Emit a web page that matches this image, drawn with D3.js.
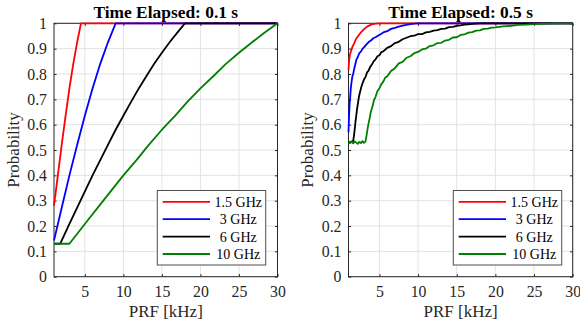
<!DOCTYPE html>
<html><head><meta charset="utf-8">
<script src="https://cdn.jsdelivr.net/npm/d3@7"></script>
<style>html,body{margin:0;padding:0;background:#fff;}svg{display:block;}</style>
</head><body>
<svg id="chart" width="580" height="330"></svg>
<script>
// ---------- data ----------
const seriesNames = ["1.5 GHz", "3 GHz", "6 GHz", "10 GHz"];
const seriesColors = ["#ff0000", "#0000ff", "#000000", "#007f00"];
const titles = ["Time Elapsed: 0.1 s", "Time Elapsed: 0.5 s"];
const xTicks = [5, 10, 15, 20, 25, 30];
const yTicks = [0, 0.1, 0.2, 0.3, 0.4, 0.5, 0.6, 0.7, 0.8, 0.9, 1];
const xLabel = "PRF [kHz]";
const yLabel = "Probability";

// Time elapsed 0.1 s
const t1_x15 = [1, 1.5, 2, 2.5, 3, 3.5, 4, 4.5, 30];
const t1_y15 = [0.28, 0.40, 0.52, 0.635, 0.743, 0.84, 0.925, 1, 1];
const t1_x3 = [1, 2, 3, 4, 5, 6, 7, 8, 9, 30];
const t1_y3 = [0.143, 0.272, 0.40, 0.52, 0.635, 0.743, 0.84, 0.925, 1, 1];
const t1_x6 = [1, 1.8, 3, 4.5, 6, 7, 8, 9, 10, 11, 12, 13, 14, 15, 16, 17, 18, 30];
const t1_y6 = [0.13, 0.13, 0.208, 0.304, 0.40, 0.46, 0.52, 0.58, 0.635, 0.69, 0.743, 0.792, 0.84, 0.884, 0.925, 0.963, 1, 1];
const t1_x10 = [1, 3, 5, 7.5, 10, 11.7, 13.3, 15, 16.7, 18.3, 20, 21.7, 23.3, 25, 26.7, 28.3, 30];
const t1_y10 = [0.13, 0.13, 0.208, 0.304, 0.40, 0.46, 0.52, 0.58, 0.635, 0.69, 0.743, 0.792, 0.84, 0.884, 0.925, 0.963, 1];

// Time elapsed 0.5 s
const t5_x15 = [1, 1.05, 1.1, 1.2, 1.3, 1.4, 1.5, 1.6, 1.75, 1.9, 2.0, 2.2, 2.4, 2.6, 2.8, 3.0, 3.2, 3.4, 3.6, 3.8, 4.0, 4.3, 4.6, 5, 30];
const t5_y15 = [0.815, 0.84, 0.86, 0.878, 0.888, 0.897, 0.906, 0.913, 0.922, 0.933, 0.94, 0.948, 0.956, 0.964, 0.97, 0.977, 0.982, 0.987, 0.99, 0.993, 0.996, 0.998, 0.999, 1, 1];
const t5_x3 = [1, 1.05, 1.1, 1.15, 1.2, 1.3, 1.4, 1.5, 1.6, 1.75, 1.9, 2.0, 2.2, 2.4, 2.6, 2.8, 3.0, 3.3, 3.6, 3.9, 4.2, 4.5, 4.8, 5.1, 5.5, 6, 6.5, 7, 7.5, 8, 8.5, 9, 9.5, 10, 30];
const t5_y3 = [0.57, 0.62, 0.655, 0.685, 0.70, 0.745, 0.77, 0.79, 0.80, 0.822, 0.84, 0.855, 0.867, 0.882, 0.888, 0.899, 0.905, 0.916, 0.926, 0.932, 0.941, 0.945, 0.951, 0.956, 0.964, 0.969, 0.978, 0.982, 0.987, 0.991, 0.994, 0.997, 0.999, 1, 1];
const t5_x6 = [1, 1.3, 1.6, 1.7, 1.8, 1.9, 2.0, 2.1, 2.2, 2.35, 2.5, 2.65, 2.8, 3.0, 3.2, 3.4, 3.6, 3.8, 4.0, 4.25, 4.5, 4.75, 5, 5.25, 5.5, 6, 6.5, 7, 7.5, 8, 8.5, 9, 9.5, 10, 10.5, 11, 11.5, 12, 12.5, 13, 13.5, 14, 14.5, 15, 15.5, 16, 16.5, 17, 17.5, 18, 30];
const t5_y6 = [0.53, 0.532, 0.535, 0.555, 0.58, 0.61, 0.635, 0.66, 0.68, 0.71, 0.73, 0.748, 0.762, 0.778, 0.788, 0.806, 0.813, 0.828, 0.836, 0.85, 0.858, 0.87, 0.874, 0.886, 0.889, 0.903, 0.91, 0.922, 0.927, 0.937, 0.943, 0.949, 0.951, 0.957, 0.957, 0.964, 0.966, 0.971, 0.973, 0.978, 0.979, 0.985, 0.986, 0.99, 0.992, 0.995, 0.996, 0.998, 0.999, 1, 1];
const t5_x10 = [1, 1.2, 1.4, 1.6, 1.8, 2.0, 2.2, 2.4, 2.6, 2.8, 3.0, 3.2, 3.35, 3.5, 3.7, 3.9, 4.1, 4.3, 4.5, 4.75, 5, 5.25, 5.5, 5.75, 6, 6.5, 7, 7.5, 8, 8.5, 9, 9.5, 10, 10.5, 11, 11.5, 12, 12.5, 13, 13.5, 14, 14.5, 15, 15.5, 16, 16.5, 17, 17.5, 18, 18.5, 19, 19.5, 20, 21, 22, 23, 24, 25, 26, 27, 28, 30];
const t5_y10 = [0.531, 0.527, 0.533, 0.526, 0.534, 0.529, 0.524, 0.532, 0.527, 0.535, 0.528, 0.533, 0.56, 0.59, 0.62, 0.652, 0.672, 0.697, 0.71, 0.733, 0.744, 0.76, 0.77, 0.786, 0.79, 0.812, 0.823, 0.842, 0.848, 0.864, 0.87, 0.882, 0.887, 0.897, 0.9, 0.91, 0.913, 0.922, 0.923, 0.932, 0.935, 0.944, 0.945, 0.954, 0.956, 0.963, 0.965, 0.971, 0.972, 0.978, 0.979, 0.983, 0.984, 0.988, 0.99, 0.994, 0.995, 0.997, 0.998, 0.999, 1, 1];

const panels = [
  { title: titles[0], xs: [t1_x15, t1_x3, t1_x6, t1_x10], ys: [t1_y15, t1_y3, t1_y6, t1_y10] },
  { title: titles[1], xs: [t5_x15, t5_x3, t5_x6, t5_x10], ys: [t5_y15, t5_y3, t5_y6, t5_y10] }
];

// ---------- layout ----------
const layouts = [
  { left: 54, right: 277.5, top: 23.3, bottom: 276.7, ylabX: 18.5, legX: 157.3 },
  { left: 348.5, right: 572.7, top: 23.3, bottom: 276.7, ylabX: 312.5, legX: 453.3 }
];
const FONT = "'Liberation Serif','Times New Roman',serif";
const AX = "#262626";
const svg = d3.select("#chart");

panels.forEach((p, pi) => {
  const L = layouts[pi];
  const x = d3.scaleLinear().domain([1, 30]).range([L.left, L.right]);
  const y = d3.scaleLinear().domain([0, 1]).range([L.bottom, L.top]);
  const g = svg.append("g");
  const w = L.right - L.left, h = L.bottom - L.top;

  g.append("rect").attr("x", L.left).attr("y", L.top).attr("width", w).attr("height", h).attr("fill", "#fff");

  // grid
  g.append("g").selectAll("line").data(xTicks).join("line")
    .attr("x1", d => x(d)).attr("x2", d => x(d)).attr("y1", L.top).attr("y2", L.bottom)
    .attr("stroke", "#e3e3e3").attr("stroke-width", 1);
  g.append("g").selectAll("line").data(yTicks).join("line")
    .attr("x1", L.left).attr("x2", L.right).attr("y1", d => y(d)).attr("y2", d => y(d))
    .attr("stroke", "#e3e3e3").attr("stroke-width", 1);

  // axes (ticks inward, mirrored)
  const tl = 2.6;
  const axB = d3.axisBottom(x).tickValues(xTicks).tickSize(-tl).tickPadding(9).tickFormat(d3.format("d"));
  const axT = d3.axisTop(x).tickValues(xTicks).tickSize(-tl).tickFormat("");
  const axL = d3.axisLeft(y).tickValues(yTicks).tickSize(-tl).tickPadding(7).tickFormat(d => d3.format("")(+d.toFixed(1)));
  const axR = d3.axisRight(y).tickValues(yTicks).tickSize(-tl).tickFormat("");
  const styleAx = sel => {
    sel.select(".domain").remove();
    sel.selectAll("line").attr("stroke", AX);
    sel.selectAll("text").attr("fill", AX).style("font-family", FONT).style("font-size", "15.8px");
  };
  g.append("g").attr("transform", `translate(0,${L.bottom})`).call(axB).call(styleAx);
  g.append("g").attr("transform", `translate(0,${L.top})`).call(axT).call(styleAx);
  g.append("g").attr("transform", `translate(${L.left},0)`).call(axL).call(styleAx);
  g.append("g").attr("transform", `translate(${L.right},0)`).call(axR).call(styleAx);

  g.append("rect").attr("x", L.left).attr("y", L.top).attr("width", w).attr("height", h)
    .attr("fill", "none").attr("stroke", AX).attr("stroke-width", 1);

  // lines
  const line = d3.line().x(d => x(d[0])).y(d => y(d[1]));
  p.xs.forEach((xs, si) => {
    const pts = xs.map((v, i) => [v, p.ys[si][i]]);
    g.append("path").attr("d", line(pts)).attr("fill", "none")
      .attr("stroke", seriesColors[si]).attr("stroke-width", 1.8).attr("stroke-linejoin", "round");
  });

  // title and labels
  g.append("text").attr("x", (L.left + L.right) / 2).attr("y", 17.5).attr("text-anchor", "middle")
    .style("font-family", FONT).style("font-size", "17.4px").style("font-weight", "bold").attr("fill", "#000")
    .text(p.title);
  g.append("text").attr("x", (L.left + L.right) / 2).attr("y", 317).attr("text-anchor", "middle")
    .style("font-family", FONT).style("font-size", "17px").attr("fill", AX).text(xLabel);
  g.append("text").attr("transform", `translate(${L.ylabX},${(L.top + L.bottom) / 2}) rotate(-90)`)
    .attr("text-anchor", "middle")
    .style("font-family", FONT).style("font-size", "17px").attr("fill", AX).text(yLabel);

  // legend
  const lg = g.append("g").attr("transform", `translate(${L.legX},190.5)`);
  lg.append("rect").attr("x", 0).attr("y", 0).attr("width", 108.4).attr("height", 74.5)
    .attr("fill", "#fff").attr("stroke", "#4d4d4d").attr("stroke-width", 1);
  seriesNames.forEach((name, si) => {
    const yy = 11.3 + si * 17.4;
    lg.append("line").attr("x1", 5.4).attr("x2", 52.7).attr("y1", yy).attr("y2", yy)
      .attr("stroke", seriesColors[si]).attr("stroke-width", 1.8);
    lg.append("text").attr("x", 81).attr("y", yy).attr("dy", "0.35em").attr("text-anchor", "middle")
      .style("font-family", FONT).style("font-size", "14px").attr("fill", "#000").text(name);
  });
});
</script>
</body></html>
